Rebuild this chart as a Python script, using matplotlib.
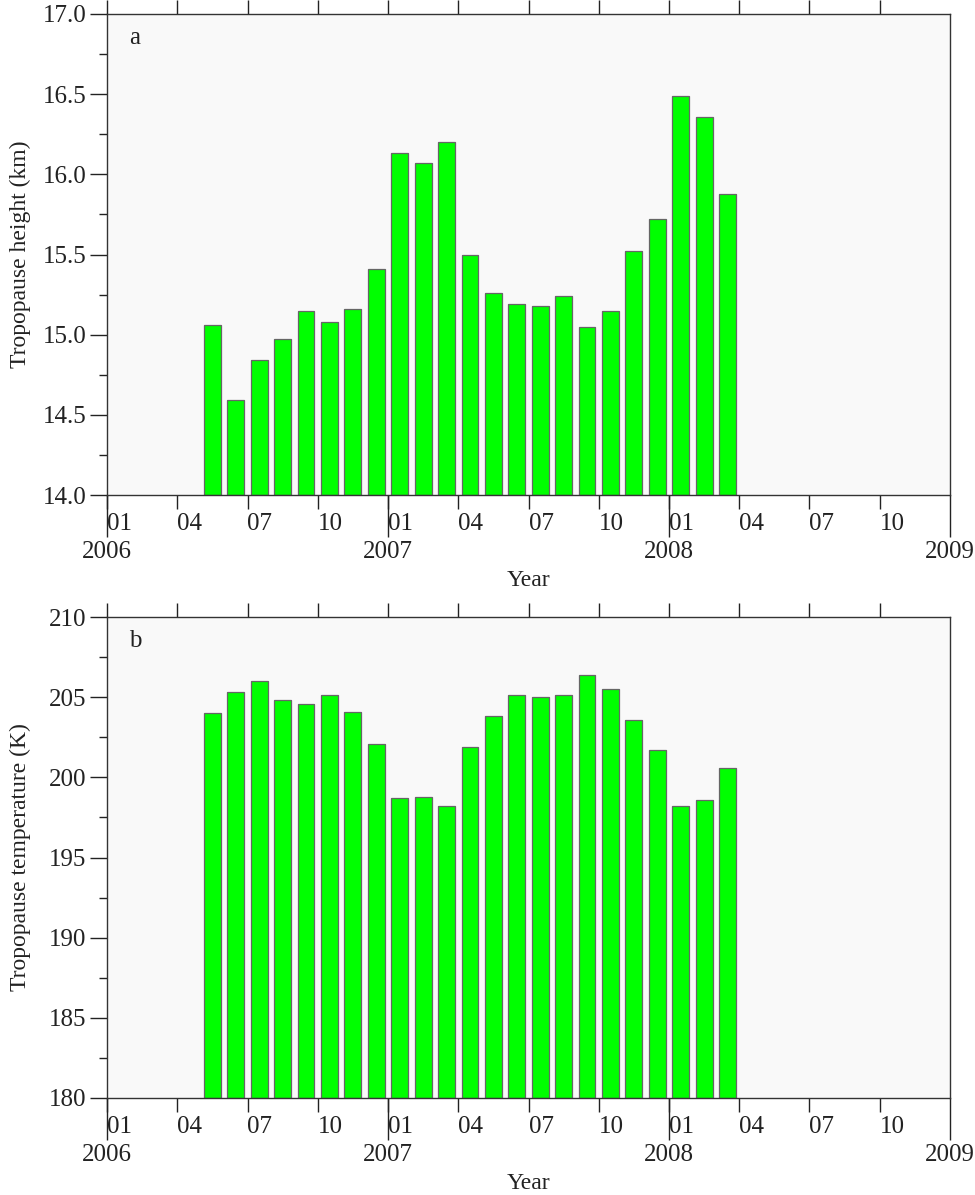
import matplotlib
matplotlib.use("Agg")
import matplotlib.pyplot as plt
import numpy as np

plt.rcParams['font.family'] = ['Liberation Serif', 'DejaVu Serif']

# ~  Data (monthly means, 2006-05 .. 2008-03)
months = ["2006-05", "2006-06", "2006-07", "2006-08", "2006-09", "2006-10",
          "2006-11", "2006-12", "2007-01", "2007-02", "2007-03", "2007-04",
          "2007-05", "2007-06", "2007-07", "2007-08", "2007-09", "2007-10",
          "2007-11", "2007-12", "2008-01", "2008-02", "2008-03"]

height_km = [15.06, 14.59, 14.84, 14.97, 15.15, 15.08, 15.16, 15.41, 16.13,
             16.07, 16.20, 15.50, 15.26, 15.19, 15.18, 15.24, 15.05, 15.15,
             15.52, 15.72, 16.49, 16.36, 15.88]

temp_k = [204.0, 205.3, 206.0, 204.8, 204.6, 205.15, 204.1, 202.1, 198.7,
          198.8, 198.2, 201.9, 203.8, 205.15, 205.0, 205.15, 206.4, 205.5,
          203.6, 201.7, 198.2, 198.6, 200.6]

quarter_labels = ["01", "04", "07", "10"] * 3
year_labels = ["2006", "2007", "2008", "2009"]

# month index from 2006-01, bars centred mid-month
x = np.array([(int(m[:4]) - 2006) * 12 + int(m[5:]) - 1 for m in months]) + 0.5

# -------------------------------------------------------------------------------- #

fig = plt.figure(figsize=(9.75, 11.95), dpi=100)
ax_top = fig.add_axes([107 / 975, 1 - 495 / 1195, 843 / 975, 481 / 1195])
ax_bot = fig.add_axes([107 / 975, 1 - 1098 / 1195, 843 / 975, 481 / 1195])

panels = [
    (ax_top, height_km, (14.0, 17.0), np.arange(14.0, 17.01, 0.5), 0.25,
     "Tropopause height (km)", "a", "%.1f"),
    (ax_bot, temp_k, (180, 210), np.arange(180, 211, 5), 2.5,
     "Tropopause temperature (K)", "b", "%d"),
]

for ax, vals, ylim, yticks, yminor, ylab, tag, fmt in panels:
    ax.set_facecolor("#f9f9f9")
    ax.bar(x, np.array(vals) - ylim[0], bottom=ylim[0], width=0.72,
           color="#00ff00", edgecolor="#666666", linewidth=0.9, zorder=2)

    ax.set_xlim(0, 36)
    ax.set_ylim(*ylim)

    # quarter ticks (month labels, left aligned at tick)
    ax.set_xticks(np.arange(0, 36, 3))
    ax.set_xticklabels(quarter_labels)
    for lbl in ax.get_xticklabels():
        lbl.set_horizontalalignment("left")
    # year ticks (long, centred labels)
    ax.xaxis.remove_overlapping_locs = False
    ax.set_xticks(np.arange(0, 37, 12), minor=True)
    ax.set_xticklabels(year_labels, minor=True)
    ax.tick_params(axis="x", which="major", direction="out", length=10,
                   width=1.0, pad=3, labelsize=18, top=True, colors="#222222")
    ax.tick_params(axis="x", which="minor", direction="out", length=30,
                   width=1.0, pad=3, labelsize=18, top=False, colors="#222222")

    ax.set_yticks(yticks)
    ax.set_yticklabels([fmt % v for v in yticks])
    ax.set_yticks(np.arange(ylim[0] + yminor, ylim[1], yminor * 2), minor=True)
    ax.tick_params(axis="y", which="major", direction="out", length=12,
                   width=1.0, pad=3, labelsize=18, colors="#222222")
    ax.tick_params(axis="y", which="minor", direction="out", length=6,
                   width=1.0, colors="#222222")

    for s in ax.spines.values():
        s.set_color("#333333")
        s.set_linewidth(1.0)

    ax.set_ylabel(ylab, fontsize=17, color="#222222")
    ax.yaxis.set_label_coords(-0.09, 0.5)
    ax.set_xlabel("Year", fontsize=17, color="#222222")
    ax.xaxis.set_label_coords(0.5, -0.155)

    ax.text(0.033, 0.95, tag, transform=ax.transAxes, fontsize=18,
            ha="center", va="center", color="#222222")

plt.savefig("out.png", dpi=100)
